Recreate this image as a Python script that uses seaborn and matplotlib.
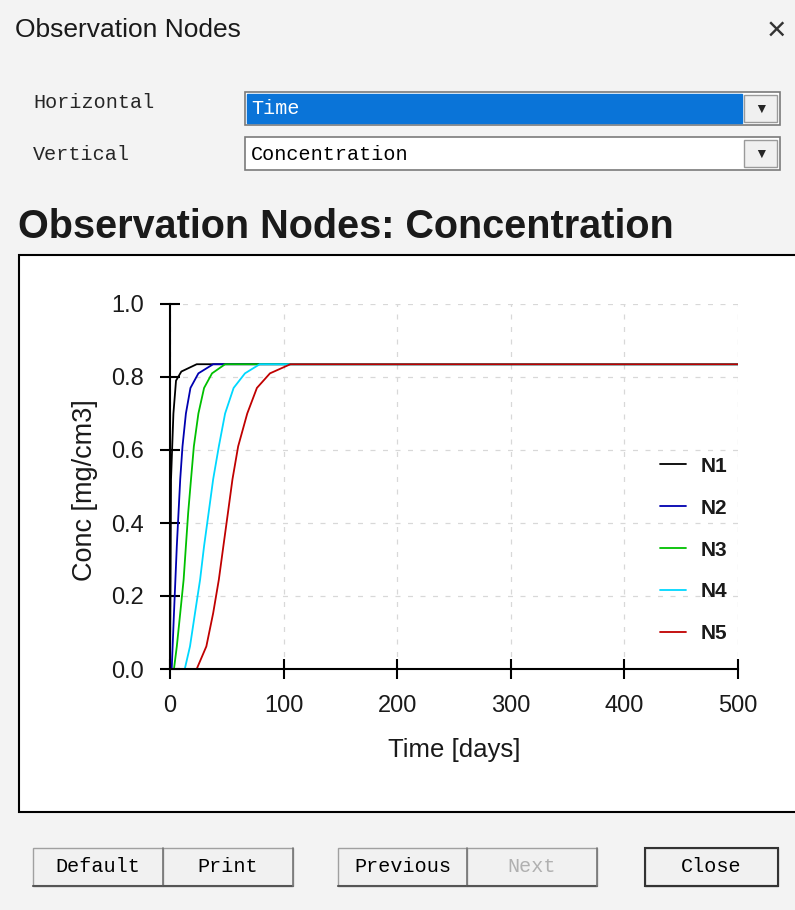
import matplotlib

matplotlib.use("Agg")
import matplotlib.pyplot as plt
import pandas as pd
import seaborn as sns
from matplotlib.patches import Rectangle

# breakthrough curves: time [days] and concentration [mg/cm3]
N1_TIME = [0, 0.5, 0.9, 3, 5.3, 10, 23.5, 500]
N1_CONC = [0.0, 0.25, 0.52, 0.70, 0.79, 0.815, 0.835, 0.835]
N2_TIME = [0, 1.5, 3.5, 6, 9, 11, 14, 18, 25, 38, 500]
N2_CONC = [0.0, 0.0, 0.153, 0.337, 0.52, 0.61, 0.70, 0.77, 0.81, 0.835, 0.835]
N3_TIME = [0, 3.5, 6, 9, 12, 14, 16, 18.5, 21, 25, 30, 37, 48.5, 500]
N3_CONC = [0.0, 0.0, 0.062, 0.153, 0.245, 0.337, 0.428, 0.52, 0.61, 0.70, 0.77, 0.81, 0.835, 0.835]
N4_TIME = [0, 13, 17.6, 22, 26.5, 30, 34, 38, 43, 48.5, 56, 66, 79, 500]
N4_CONC = [0.0, 0.0, 0.062, 0.153, 0.245, 0.337, 0.428, 0.52, 0.61, 0.70, 0.77, 0.81, 0.835, 0.835]
N5_TIME = [0, 23.5, 32, 38, 43, 47, 51, 55, 60, 68, 76.5, 88, 106, 500]
N5_CONC = [0.0, 0.0, 0.062, 0.153, 0.245, 0.337, 0.428, 0.52, 0.61, 0.70, 0.77, 0.81, 0.835, 0.835]

NODES = ["N1", "N2", "N3", "N4", "N5"]
NODE_COLORS = ["#000000", "#0000b0", "#00c000", "#00d8ff", "#c00000"]

X_TICKS = [0, 100, 200, 300, 400, 500]
Y_TICKS = [0.0, 0.2, 0.4, 0.6, 0.8, 1.0]

BUTTONS = ["Default", "Print", "Previous", "Next", "Close"]

sns.set_theme(style="white")
plt.rcParams["font.family"] = ["Liberation Sans", "DejaVu Sans"]

W, H = 795, 910
MONO = ["Liberation Mono", "DejaVu Sans Mono"]


def px(x, y):
    """pixel (from top-left) -> figure fraction"""
    return x / W, 1 - y / H


def build_frame() -> pd.DataFrame:
    times = [N1_TIME, N2_TIME, N3_TIME, N4_TIME, N5_TIME]
    concs = [N1_CONC, N2_CONC, N3_CONC, N4_CONC, N5_CONC]
    parts = []
    for node, t, c in zip(NODES, times, concs):
        parts.append(pd.DataFrame({"time": t, "conc": c, "node": node}))
    return pd.concat(parts, ignore_index=True)


def draw_dialog(fig):
    bg = fig.add_axes([0, 0, 1, 1])
    bg.set_xlim(0, W)
    bg.set_ylim(H, 0)
    bg.axis("off")
    bg.add_patch(Rectangle((0, 0), W, H, color="#f3f3f3", zorder=0))

    bg.text(15, 30, "Observation Nodes", fontsize=19, va="center", ha="left",
            color="#1a1a1a")
    bg.text(776, 31, "\u00d7", fontsize=24, va="center", ha="center", color="#333333")

    # combo boxes
    bg.text(33, 102, "Horizontal", family=MONO, fontsize=14.5, va="center")
    bg.text(33, 155, "Vertical", family=MONO, fontsize=14.5, va="center")
    for top, selected, label in [(92, True, "Time"), (137, False, "Concentration")]:
        bg.add_patch(Rectangle((245, top), 535, 33, facecolor="white",
                               edgecolor="#7a7a7a", lw=1.2, zorder=1))
        if selected:
            bg.add_patch(Rectangle((247, top + 2), 495, 29, color="#0a74d8", zorder=2))
        bg.add_patch(Rectangle((744, top + 3), 33, 27, facecolor="#f0f0f0",
                               edgecolor="#9a9a9a", lw=1, zorder=2))
        bg.text(761, top + 17, "\u25bc", fontsize=10, ha="center", va="center", zorder=3)
        bg.text(251, top + 17, label, family=MONO, fontsize=14.5, va="center",
                color="white" if selected else "black", zorder=3)

    bg.text(18, 227, "Observation Nodes: Concentration", fontsize=28.5,
            fontweight="bold", va="center", ha="left", color="#1a1a1a")

    # plot panel
    bg.add_patch(Rectangle((19, 255), 790, 557, facecolor="white",
                           edgecolor="black", lw=1.5, zorder=1))

    # buttons
    spans = [(33, 163), (163, 293), (338, 467), (467, 597), (645, 778)]
    for (x0, x1), name in zip(spans, BUTTONS):
        bg.add_patch(Rectangle((x0, 848), x1 - x0, 38, facecolor="#f1f1f1",
                               edgecolor="#a0a0a0", lw=1, zorder=1))
        bg.plot([x0, x1], [886, 886], color="#555555", lw=1.5, zorder=2)
        bg.plot([x1, x1], [848, 886], color="#777777", lw=1.2, zorder=2)
        if name == "Close":
            bg.add_patch(Rectangle((x0, 848), x1 - x0, 38, fill=False,
                                   edgecolor="#333333", lw=1.5, zorder=3))
        bg.text((x0 + x1) / 2, 867, name, family=MONO, fontsize=14.5,
                ha="center", va="center", zorder=3,
                color="#b0b0b0" if name == "Next" else "black")


def draw_plot(fig, df):
    left, bottom = px(170, 669)
    right, top = px(738, 304)
    ax = fig.add_axes([left, bottom, right - left, top - bottom])
    ax.set_facecolor("none")

    sns.lineplot(data=df, x="time", y="conc", hue="node", hue_order=NODES,
                 palette=dict(zip(NODES, NODE_COLORS)), lw=1.3, ax=ax,
                 estimator=None, sort=False)

    ax.set_xlim(0, 500)
    ax.set_ylim(0, 1.0)
    ax.set_xticks(X_TICKS)
    ax.set_yticks(Y_TICKS)
    ax.set_yticklabels([f"{v:.1f}" for v in Y_TICKS])
    ax.tick_params(direction="inout", length=15, width=1.5, labelsize=17,
                   colors="black", labelcolor="#1a1a1a", pad=11,
                   left=True, bottom=True)
    ax.set_xlabel("Time [days]", fontsize=18.5, color="#1a1a1a")
    ax.set_ylabel("Conc [mg/cm3]", fontsize=19.5, color="#1a1a1a")
    ax.xaxis.set_label_coords(0.5, (669 - 750) / 365)
    ax.xaxis.label.set_verticalalignment("center")
    ax.yaxis.set_label_coords((85 - 170) / 568, 0.49)
    ax.yaxis.label.set_verticalalignment("center")

    for side in ["top", "right"]:
        ax.spines[side].set_visible(False)
    for side in ["left", "bottom"]:
        ax.spines[side].set_color("black")
        ax.spines[side].set_linewidth(1.5)

    ax.grid(True, color="#d8d8d8", linestyle=(0, (4, 6)), lw=0.9)
    ax.set_axisbelow(True)

    leg = ax.legend(loc="center left", bbox_to_anchor=((660 - 170) / 568, 0.326),
                    frameon=False, borderpad=0, borderaxespad=0,
                    handlelength=1.25, handletextpad=0.7, labelspacing=1.1,
                    prop={"weight": "bold", "size": 15})
    for line in leg.get_lines():
        line.set_linewidth(1.3)
    for text in leg.get_texts():
        text.set_color("#1a1a1a")


def main() -> None:
    df = build_frame()
    fig = plt.figure(figsize=(W / 100, H / 100), dpi=100)
    draw_dialog(fig)
    draw_plot(fig, df)
    fig.savefig("out.png", dpi=100)
    plt.close(fig)


if __name__ == "__main__":
    main()
